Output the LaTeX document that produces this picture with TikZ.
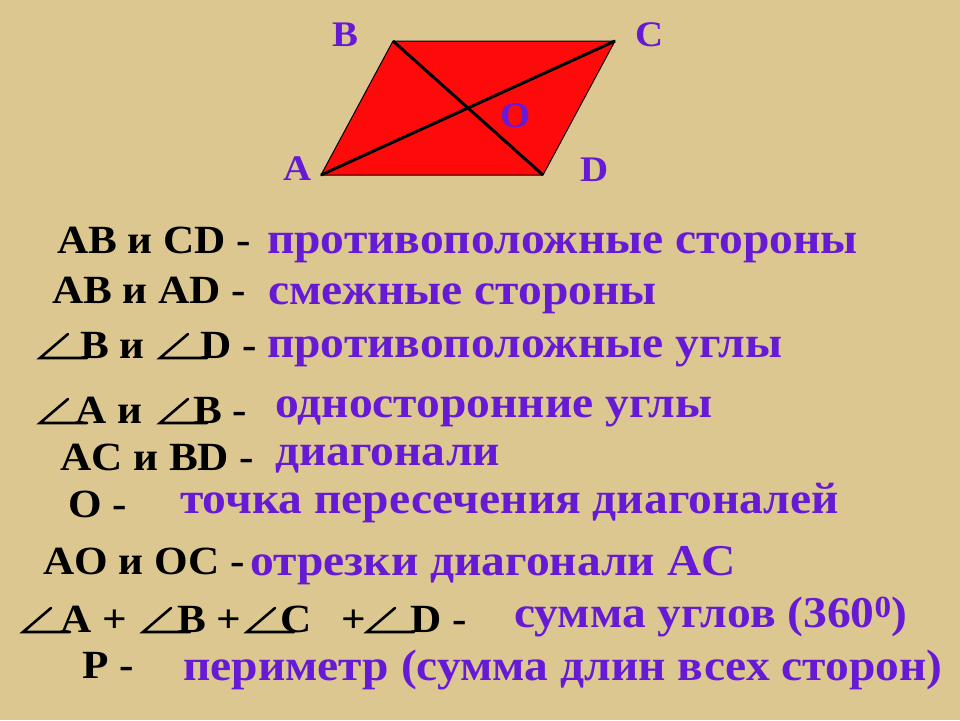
\documentclass[tikz,border=0pt]{standalone}
\usepackage{fontspec}
\setmainfont{Liberation Serif}[FakeStretch=1.08]
\definecolor{bg}{RGB}{219,199,143}
\definecolor{purp}{RGB}{102,26,214}
\definecolor{redfill}{RGB}{255,10,10}
\tikzset{
  blk/.style={anchor=base west,inner sep=0pt,text=black,font=\bfseries\fontsize{40}{42}\selectfont},
  prp/.style={anchor=base west,inner sep=0pt,text=purp,font=\bfseries\fontsize{44}{46}\selectfont},
  vlab/.style={anchor=base west,inner sep=0pt,text=purp,font=\bfseries\fontsize{36}{38}\selectfont},
  angsym/.pic={\draw[line width=2.6pt,line cap=round,line join=miter] (47,0) -- (0,0) -- (28,-24);}
}
\begin{document}
\begin{tikzpicture}[x=1pt,y=-1pt]
\fill[bg] (0,0) rectangle (960,720);
\useasboundingbox (0,0) rectangle (960,720);
% parallelogram
\coordinate (A) at (321,175);
\coordinate (B) at (393,41);
\coordinate (C) at (615,41);
\coordinate (D) at (543,175);
\fill[redfill,draw=black,line width=1pt] (A) -- (B) -- (C) -- (D) -- cycle;
\draw[line width=3pt] (A) -- (C);
\draw[line width=3pt] (B) -- (D);
\node[vlab] (lB) at (332,46) {B};
\node[vlab] (lC) at (635,46) {C};
\node[vlab] (lO) at (500,127) {O};
\node[vlab] (lA) at (283,180) {A};
\node[vlab] (lD) at (580,181) {D};
% line 1
\node[blk] (k1) at (57,253) {AB и CD -};
\node[prp] (p1) at (267,253) {противоположные стороны};
% line 2
\node[blk] (k2) at (52,303) {AB и AD -};
\node[prp] (p2) at (268,304) {смежные стороны};
% line 3
\pic at (40,358) {angsym};
\node[blk] (k3a) at (80,358) {B и};
\pic at (160,358) {angsym};
\node[blk] (k3b) at (200,358) {D -};
\node[prp] (p3) at (267,357) {противоположные углы};
% line 4
\pic at (40,423) {angsym};
\node[blk] (k4a) at (75,423) {A и};
\pic at (160,423) {angsym};
\node[blk] (k4b) at (193,423) {B -};
\node[prp] (p4) at (275,417) {односторонние углы};
% line 5
\node[blk] (k5) at (60,470) {AC и BD -};
\node[prp] (p5) at (275,465) {диагонали};
% line 6
\node[blk] (k6) at (68,517) {O -};
\node[prp] (p6) at (180,513) {точка пересечения диагоналей};
% line 7
\node[blk] (k7) at (43,574) {AO и OC -};
\node[prp] (p7) at (250,575) {отрезки диагонали AC};
% line 8
\pic at (23,632) {angsym};
\node[blk] (k8a) at (60,632) {A +};
\pic at (143,632) {angsym};
\node[blk] (k8b) at (177,632) {B +};
\pic at (247,632) {angsym};
\node[blk] (k8c) at (280,632) {C};
\node[blk] (k8p) at (341,632) {+};
\pic at (367,632) {angsym};
\node[blk] (k8d) at (410,632) {D -};
\node[prp] (p8) at (514,627) {сумма углов (360\textsuperscript{0})};
% line 9
\node[blk] (k9) at (82,678) {P -};
\node[prp] (p9) at (183,680) {периметр (сумма длин всех сторон)};
\end{tikzpicture}
\end{document}
